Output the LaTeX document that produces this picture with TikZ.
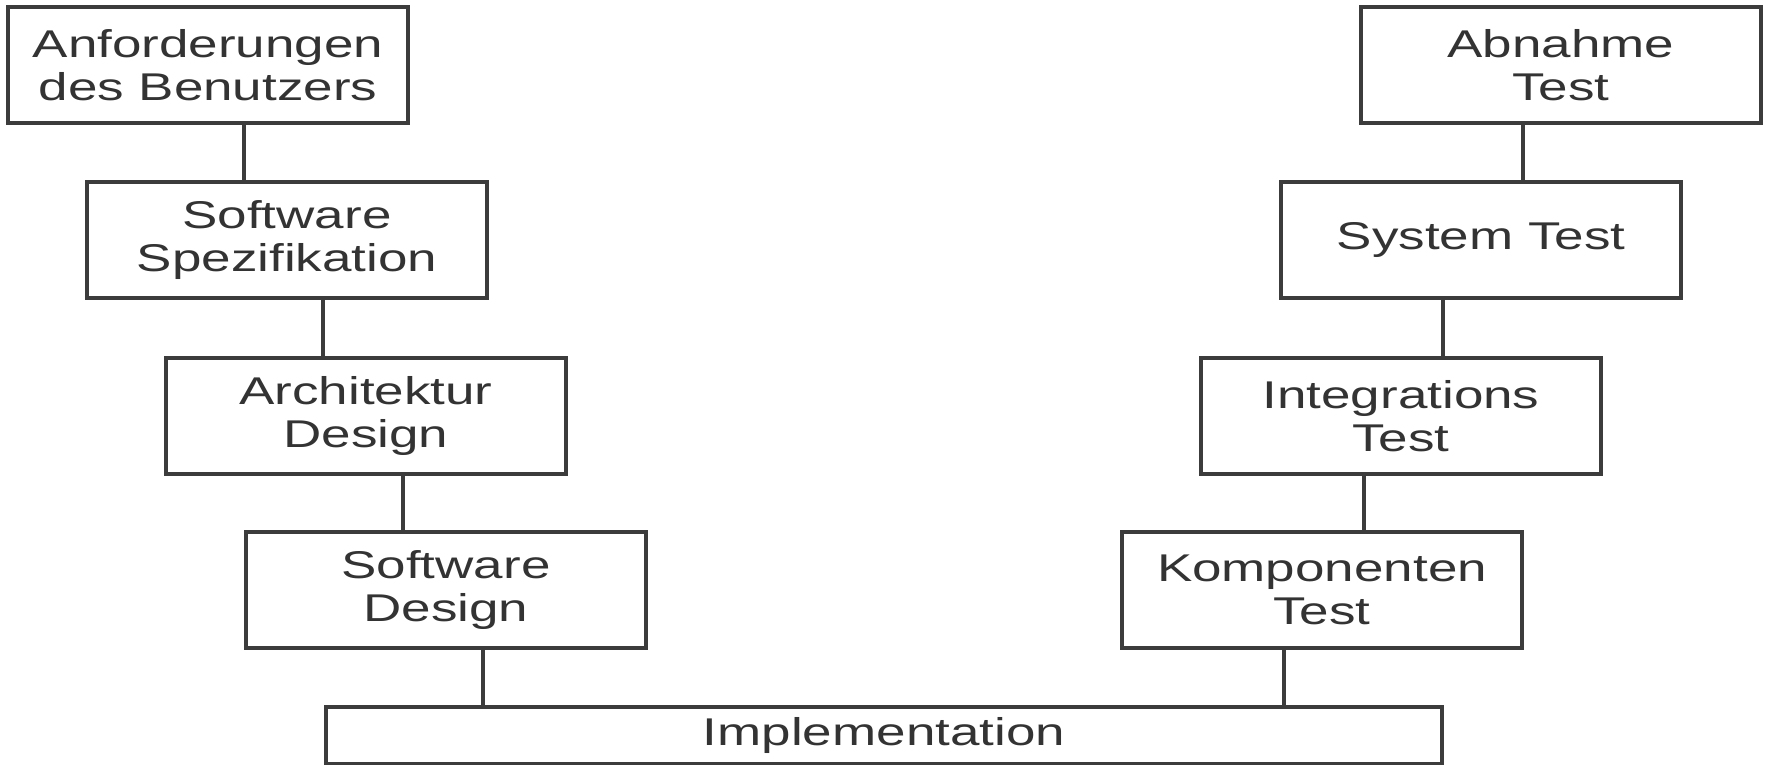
\documentclass[tikz,border=0pt]{standalone}
\usepackage{fontspec}
\setmainfont{Liberation Sans}[FakeStretch=1.37]
\usetikzlibrary{calc}
\definecolor{linie}{HTML}{3C3C3C}
\definecolor{schrift}{HTML}{333333}

\begin{document}
\begin{tikzpicture}[x=0.01cm,y=-0.01cm,
	phase/.style={draw=linie,line width=1.15pt,rectangle,minimum width=3.99cm,minimum height=1.16cm,
		inner sep=0pt,align=center,text=schrift,font=\fontsize{11}{12.2}\selectfont},
	verb/.style={draw=linie,line width=1.15pt}]
			\useasboundingbox (0,0) rectangle (1767,765);
			%linke Seite
			\node[phase] (anf) at (208,65) {Anforderungen\\des Benutzers};
			\node[phase] (spez) at (287,240) {Software\\Spezifikation};
			\node[phase] (arch) at (366,416) {Architektur\\Design};
			\node[phase] (swd) at (446,590) {Software\\Design};
			%rechte Seite
			\node[phase] (abn) at (1561,65) {Abnahme\\Test};
			\node[phase] (sys) at (1481,240) {System Test};
			\node[phase] (integ) at (1401,416) {Integrations\\Test};
			\node[phase] (komp) at (1322,590) {Komponenten\\Test};
			%unten
			\node[phase,minimum width=11.16cm,minimum height=0.57cm] (impl) at (884,736) {Implementation};
			%Verbindungen links
			\foreach \oben/\unten in {anf/spez,spez/arch,arch/swd,swd/impl}{
				\coordinate (p) at ([xshift=1.59cm]\unten.north west);
				\draw[verb] (p) -- (p |- \oben.south);
			}
			%Verbindungen rechts
			\foreach \oben/\unten in {abn/sys,sys/integ,integ/komp,komp/impl}{
				\coordinate (q) at ([xshift=-1.6cm]\unten.north east);
				\draw[verb] (q) -- (q |- \oben.south);
			}
		\end{tikzpicture}
\end{document}
